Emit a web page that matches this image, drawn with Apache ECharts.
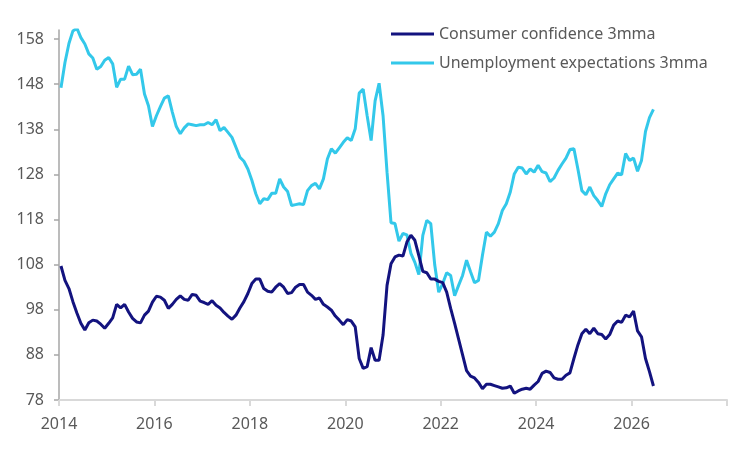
<!DOCTYPE html>
<html>
<head>
<meta charset="UTF-8">
<title>Consumer confidence vs unemployment expectations</title>
<script src="https://cdn.jsdelivr.net/npm/echarts@6/dist/echarts.min.js"></script>
<style>
  html, body { margin: 0; padding: 0; background: #fff; }
  #main { width: 750px; height: 450px; }
</style>
</head>
<body>
<div id="main"></div>
<script>
// monthly series, first value = Jan 2014
var startYear = 2014;
var seriesNames = ['Consumer confidence 3mma', 'Unemployment expectations 3mma'];

var consumer = [
  107.7, 104.5, 102.7, 99.8, 97.3, 95.0, 93.5, 95.1, 95.7, 95.5, 94.8, 93.9,
  95.0, 96.2, 99.2, 98.4, 99.2, 97.5, 96.1, 95.3, 95.1, 96.8, 97.7, 99.7,
  101.0, 100.8, 100.1, 98.3, 99.2, 100.3, 101.1, 100.3, 100.1, 101.4, 101.2, 99.9,
  99.6, 99.2, 100.0, 99.0, 98.4, 97.4, 96.6, 95.9, 96.8, 98.4, 99.8, 101.6,
  103.8, 104.8, 104.8, 102.7, 102.1, 101.9, 103.0, 103.8, 103.0, 101.6, 101.8, 103.0,
  103.6, 103.6, 101.9, 101.2, 100.3, 100.6, 99.2, 98.6, 97.9, 96.6, 95.7, 94.7,
  95.8, 95.5, 94.2, 87.2, 85.0, 85.4, 89.6, 86.8, 86.8, 92.4, 103.4, 108.2,
  109.7, 110.1, 109.9, 113.0, 114.5, 113.4, 110.0, 106.5, 106.2, 104.8, 104.8, 104.3,
  104.0, 101.9, 98.3, 95.0, 91.5, 88.0, 84.5, 83.3, 82.9, 81.9, 80.5, 81.5,
  81.5, 81.2, 80.9, 80.6, 80.7, 81.1, 79.5, 80.0, 80.4, 80.6, 80.4, 81.3,
  82.1, 83.9, 84.4, 84.1, 82.9, 82.6, 82.6, 83.5, 84.0, 87.2, 90.2, 92.7,
  93.7, 92.7, 93.9, 92.7, 92.5, 91.5, 92.5, 94.6, 95.5, 95.2, 96.8, 96.4,
  97.7, 93.3, 92.0, 87.2, 84.3, 81.1
];

var unemployment = [
  147.2, 152.8, 157.0, 159.8, 160.4, 158.3, 156.9, 154.7, 153.8, 151.3, 151.9, 153.3,
  153.9, 152.5, 147.3, 149.1, 149.1, 152.0, 150.1, 150.2, 151.3, 145.8, 143.2, 138.6,
  141.0, 143.0, 144.9, 145.4, 141.8, 138.6, 137.0, 138.3, 139.2, 139.0, 138.8, 139.0,
  139.0, 139.5, 139.0, 140.1, 137.7, 138.4, 137.3, 136.2, 134.0, 131.8, 130.9, 129.2,
  126.7, 123.7, 121.5, 122.6, 122.4, 123.8, 123.8, 127.0, 125.2, 124.2, 121.1, 121.3,
  121.5, 121.3, 124.4, 125.5, 126.0, 124.8, 127.0, 131.4, 133.7, 132.7, 133.9, 135.1,
  136.1, 135.5, 138.1, 146.0, 146.9, 141.0, 135.5, 144.3, 148.2, 141.0, 128.5, 117.3,
  117.1, 113.2, 114.9, 114.6, 110.5, 108.5, 105.8, 114.5, 117.8, 117.1, 107.9, 101.9,
  103.8, 106.2, 105.6, 101.1, 103.4, 105.6, 109.0, 106.4, 104.0, 104.5, 110.1, 115.2,
  114.3, 115.2, 117.1, 120.0, 121.5, 124.1, 128.1, 129.6, 129.4, 128.1, 129.2, 128.5,
  130.0, 128.6, 128.3, 126.4, 127.2, 128.9, 130.3, 131.6, 133.5, 133.7, 129.2, 124.4,
  123.5, 125.2, 123.3, 122.2, 120.9, 123.7, 125.7, 127.0, 128.3, 127.9, 132.6, 131.1,
  131.6, 128.7, 131.1, 137.5, 140.6, 142.4
];

var yTicks = [78, 88, 98, 108, 118, 128, 138, 148, 158];
var xTicks = [2014, 2016, 2018, 2020, 2022, 2024, 2026, 2028];
var xLabels = [2014, 2016, 2018, 2020, 2022, 2024, 2026];

function toPoints(arr) {
  var out = [];
  for (var k = 0; k < arr.length; k++) {
    out.push([startYear + (k + 0.5) / 12, arr[k]]);
  }
  return out;
}

var txt = '#595959';
var font = 'Noto Sans';

var myChart = echarts.init(document.getElementById('main'));
var option = {
  backgroundColor: '#ffffff',
  animation: false,
  textStyle: { fontFamily: font },
  grid: { left: 59, right: 23, top: 30, bottom: 50 },
  legend: {
    orient: 'vertical',
    left: 386,
    top: 21,
    itemGap: 13,
    itemWidth: 43,
    itemHeight: 3,
    icon: 'rect',
    textStyle: { color: txt, fontSize: 16, fontFamily: font },
    data: seriesNames
  },
  xAxis: {
    type: 'value',
    min: 2014,
    max: 2028,
    interval: 2,
    splitLine: { show: false },
    axisLine: { lineStyle: { color: '#d9d9d9', width: 2 } },
    axisTick: { show: true, length: 6, lineStyle: { color: '#d9d9d9', width: 2 }, customValues: xTicks },
    axisLabel: { color: txt, fontSize: 16, margin: 16, customValues: xLabels, formatter: function (v) { return String(v); } }
  },
  yAxis: {
    type: 'value',
    min: 78,
    max: 160,
    interval: 10,
    splitLine: { show: false },
    axisLine: { show: true, onZero: false, lineStyle: { color: '#a6a6a6', width: 1.5 } },
    axisTick: { show: true, length: 5, lineStyle: { color: '#a6a6a6', width: 1.5 }, customValues: yTicks },
    axisLabel: { color: txt, fontSize: 16, margin: 15, customValues: yTicks }
  },
  series: [
    {
      name: seriesNames[0],
      type: 'line',
      data: toPoints(consumer),
      symbol: 'none',
      clip: true,
      lineStyle: { color: '#13137f', width: 3 },
      itemStyle: { color: '#13137f' },
      z: 3
    },
    {
      name: seriesNames[1],
      type: 'line',
      data: toPoints(unemployment),
      symbol: 'none',
      clip: true,
      lineStyle: { color: '#33c8ea', width: 3 },
      itemStyle: { color: '#33c8ea' },
      z: 2
    }
  ]
};
myChart.setOption(option);
</script>
</body>
</html>
